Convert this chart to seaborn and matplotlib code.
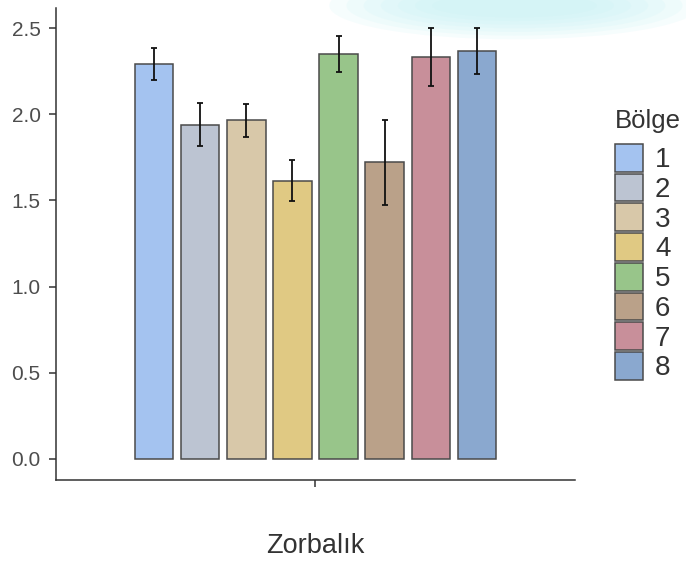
import matplotlib
matplotlib.use("Agg")
import matplotlib.pyplot as plt
import numpy as np
import pandas as pd
import seaborn as sns
from matplotlib.patches import Ellipse

# values
regions = ["1", "2", "3", "4", "5", "6", "7", "8"]
means = [2.29, 1.94, 1.965, 1.615, 2.35, 1.72, 2.33, 2.367]
errors = [0.094, 0.127, 0.097, 0.121, 0.106, 0.244, 0.168, 0.131]
colors = ["#A4C3F0", "#BCC4D2", "#D8C8A9", "#E0C983", "#98C58A",
          "#BAA189", "#C88F9A", "#8AA8CF"]
category = "Zorbalık"

df = pd.DataFrame({"grup": [category] * len(regions), "Bölge": regions, "deger": means})

sns.set_theme(style="ticks")
plt.rcParams["font.family"] = ["Liberation Sans", "DejaVu Sans"]

fig = plt.figure(figsize=(6.86, 5.61), dpi=100)
ax = fig.add_axes([0.0816, 0.1444, 0.7566, 0.8413])
ax.set_facecolor("none")

# soft cyan glow at the top of the reference image (behind the axes)
for k in range(7):
    fig.patches.append(Ellipse((0.75, 0.99), 0.54 - k * 0.05, 0.12 - k * 0.013,
                               transform=fig.transFigure, color="#c4f2f6",
                               alpha=0.15, lw=0, zorder=-1))

sns.barplot(data=df, x="grup", y="deger", hue="Bölge", palette=colors,
            width=0.9, gap=0.17, errorbar=None, edgecolor="#4a4a4a",
            linewidth=1.1, saturation=1, ax=ax)

bars = ax.patches[:len(regions)]
xs = [b.get_x() + b.get_width() / 2 for b in bars]
ax.errorbar(xs, means, yerr=errors, fmt="none", ecolor="#111111",
            elinewidth=1.3, capsize=2, capthick=1.3, zorder=5)

ax.set_xlim(-0.634, 0.634)
ax.set_ylim(-0.122, 2.616)
ax.set_yticks([0.0, 0.5, 1.0, 1.5, 2.0, 2.5])
ax.set_yticklabels(["0.0", "0.5", "1.0", "1.5", "2.0", "2.5"])
ax.set_xticks([0])
ax.set_xticklabels([""])
ax.set_ylabel("")
ax.set_xlabel(category, fontsize=19.5, color="#333333")
ax.xaxis.set_label_coords(0.5, -0.112)

sns.despine(ax=ax)
for side in ["left", "bottom"]:
    ax.spines[side].set_color("#333333")
    ax.spines[side].set_linewidth(1.1)
ax.tick_params(axis="both", colors="#333333", labelcolor="#4d4d4d",
               labelsize=15, length=5, width=1.1)
ax.tick_params(axis="y", pad=6)

leg = ax.legend(title="Bölge", loc="upper left",
                bbox_to_anchor=(0.897, 0.806), bbox_transform=fig.transFigure,
                frameon=False, fontsize=20, title_fontsize=18.5,
                handlelength=1.0, handleheight=1.15, handletextpad=0.43,
                labelspacing=0.02, borderpad=0, borderaxespad=0,
                alignment="left")
leg._legend_box.sep = 8
for t in leg.get_texts():
    t.set_color("#333333")
leg.get_title().set_color("#333333")

fig.savefig("out.png", dpi=100)
